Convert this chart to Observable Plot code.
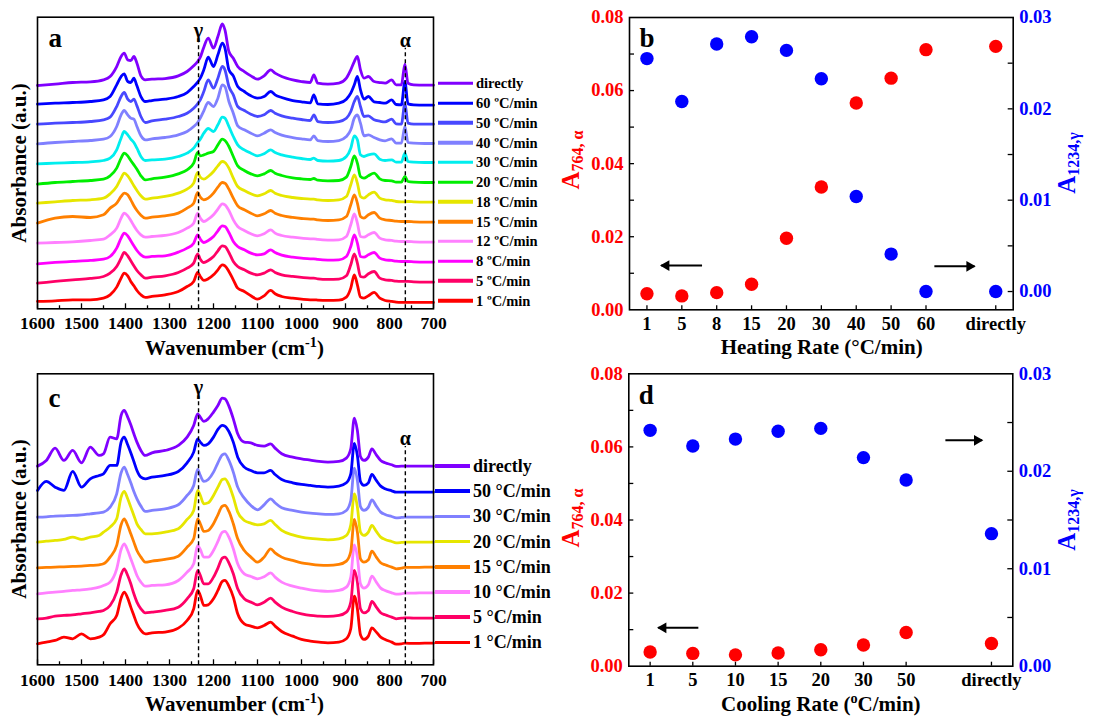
<!DOCTYPE html>
<html><head><meta charset="utf-8">
<script src="https://cdn.jsdelivr.net/npm/d3@7"></script>
<script src="https://cdn.jsdelivr.net/npm/@observablehq/plot@0.6"></script>
<style>
body{margin:0;background:#fff;}
#root{position:relative;width:1098px;height:716px;overflow:hidden;font-family:"Liberation Serif","Times New Roman",serif;font-weight:bold;color:#000;}
.panel{position:absolute;}
.lbl{position:absolute;white-space:nowrap;transform:translate(-50%,-50%);font-weight:bold;line-height:1;}
.rot{transform:translate(-50%,-50%) rotate(-90deg);}
.leg{position:absolute;display:flex;align-items:center;white-space:nowrap;transform:translateY(-50%);line-height:1;font-weight:bold;}
.leg .sw{display:inline-block;height:3.5px;margin-right:3px;}
sub{font-size:66%;vertical-align:-0.25em;}
sup{font-size:68%;vertical-align:0.5em;}
</style></head><body><div id="root"></div><script>
// ---------- Panel a: FTIR spectra on heating ----------
const waveA = [1600,1560,1520,1480,1450,1435,1420,1410,1403,1395,1388,1381,1374,1365,1355,1340,1310,1280,1260,1245,1236,1230,1222,1212,1200,1190,1180,1174,1165,1155,1145,1130,1115,1100,1085,1070,1060,1045,1020,1000,980,972,963,940,915,898,888,880,873,866,858,848,835,822,810,795,785,773,765,758,745,720,700];
const heat1 = [22,24,27,27,32,42,65,92,107,99,82,69,55,42,34,37,42,52,67,82,109,97,85,90,102,117,132,129,112,87,62,52,39,29,39,55,45,37,32,29,27,27,26,25,26,35,62,102,72,35,32,39,49,32,25,22,20,19,19,19,19,19,19];
const heat5 = [77,82,87,91,97,107,127,152,169,159,144,129,115,102,92,95,99,109,122,137,165,149,139,145,157,174,189,187,169,142,127,117,107,102,107,117,109,102,97,94,92,92,90,88,89,99,132,165,137,97,95,105,112,92,87,85,83,82,82,82,81,80,80];
const heat8 = [135,139,142,145,149,157,182,212,227,219,204,189,175,162,155,157,159,170,182,197,222,209,199,205,217,234,249,247,229,202,187,177,167,162,165,177,169,161,155,152,150,150,148,146,147,157,187,222,197,157,155,162,169,152,147,145,143,142,142,142,141,140,140];
const heat12 = [197,199,201,205,209,222,242,272,287,279,265,249,235,222,215,217,220,229,242,257,287,272,262,269,282,299,315,312,295,267,247,235,225,219,225,237,227,220,215,212,210,210,208,206,207,217,252,285,257,217,215,222,229,212,207,205,203,202,202,202,201,200,200];
const heat15 = [257,272,277,274,282,302,317,337,347,342,327,309,295,281,272,275,279,287,302,317,349,335,327,332,347,365,379,377,359,332,309,297,287,279,285,295,287,280,274,271,269,269,267,265,267,277,312,342,317,277,272,282,289,272,267,265,263,262,262,262,261,260,260];
const heat18 = [317,321,325,327,332,345,367,392,407,399,385,369,355,339,329,332,337,347,359,377,409,395,389,397,412,429,442,439,422,392,367,355,345,339,345,355,347,340,334,331,329,329,327,325,327,337,372,402,377,337,332,342,350,332,327,325,322,321,321,322,321,320,320];
const heat20 = [374,379,382,385,389,399,422,452,467,459,445,432,419,399,387,390,395,405,417,437,469,459,462,467,472,492,509,505,487,457,429,415,405,399,405,415,407,400,393,390,388,391,386,384,385,395,427,459,437,397,392,399,407,390,385,384,380,380,397,382,380,379,379];
const heat30 = [435,437,439,441,445,452,477,512,532,522,509,499,482,457,445,447,449,457,467,482,499,509,527,541,532,552,575,572,547,517,492,477,467,459,465,477,469,462,455,451,448,452,445,443,445,457,482,519,507,462,457,462,465,449,445,447,440,440,467,442,440,439,439];
const heat40 = [495,499,502,505,509,517,547,582,595,582,572,569,547,519,507,510,514,522,532,547,559,572,594,619,607,632,672,667,622,587,549,537,527,519,527,537,529,521,514,510,507,519,505,502,505,517,537,572,582,557,519,522,514,507,504,510,497,497,547,499,497,496,496];
const heat50 = [554,557,559,562,567,575,607,637,649,629,622,629,609,577,559,564,569,577,587,602,615,627,652,687,662,692,727,717,667,642,607,595,584,577,582,595,587,579,572,568,565,582,562,559,562,572,592,622,637,607,577,579,567,563,561,569,555,554,617,557,554,554,554];
const heat60 = [614,617,619,622,627,637,672,697,705,682,679,692,669,637,622,625,629,637,649,667,680,692,717,755,727,762,797,782,717,699,667,652,639,632,637,652,642,634,625,621,618,642,615,613,617,629,647,672,697,657,629,637,621,619,617,627,613,612,682,615,612,611,611];
const heatDirect = [670,674,679,681,687,697,727,757,767,747,745,757,737,699,687,689,691,699,712,729,742,755,785,812,782,817,855,837,772,752,727,712,699,689,699,717,707,697,687,682,679,702,677,674,677,692,717,742,757,717,692,697,682,679,677,687,672,672,734,677,672,671,671];
const heatLabels = ["1 ºC/min","5 ºC/min","8 ºC/min","12 ºC/min","15 ºC/min","18 ºC/min","20 ºC/min","30 ºC/min","40 ºC/min","50 ºC/min","60 ºC/min","directly"];
const heatColors = ["#ff0000","#ff0066","#ff00ff","#ff80ff","#ff8000","#e6e600","#00ee00","#00eeee","#8080ff","#4848ff","#0000ff","#8000ff"];

// ---------- Panel c: FTIR spectra on cooling ----------
const waveC = [1600,1580,1560,1540,1520,1500,1480,1460,1450,1435,1420,1410,1403,1395,1388,1381,1374,1365,1355,1340,1310,1280,1260,1245,1236,1230,1222,1212,1200,1190,1180,1174,1165,1155,1145,1130,1115,1100,1085,1070,1060,1045,1020,1000,980,960,940,915,898,888,880,873,866,858,848,840,830,820,810,795,785,773,765,745,720,700];
const cool1 = [63,68,73,83,78,93,78,83,90,123,148,200,218,200,173,148,123,103,93,96,98,110,133,168,223,208,178,180,198,223,250,253,236,203,153,123,116,111,118,128,116,100,86,76,71,68,66,68,78,108,206,168,90,76,86,111,98,83,76,68,62,63,65,64,65,65];
const cool5 = [138,140,146,148,150,153,156,160,163,178,218,270,288,268,243,213,188,168,156,158,163,173,198,228,283,268,243,243,263,290,320,323,306,273,228,198,188,180,188,200,188,173,160,153,148,146,145,148,158,188,283,248,168,156,163,190,173,156,150,143,138,140,141,140,140,140];
const cool10 = [213,216,218,220,223,225,228,233,238,248,288,346,363,343,318,293,268,248,236,238,240,253,278,303,358,346,323,323,343,370,398,400,383,348,303,273,265,258,264,276,263,248,236,230,225,222,220,223,233,263,360,323,243,230,240,266,248,230,223,216,212,213,215,215,216,216];
const cool15 = [291,292,293,294,295,296,298,300,303,323,358,420,438,418,393,368,343,323,308,311,316,326,353,378,438,423,400,403,423,450,476,478,460,423,378,343,323,308,323,348,336,323,313,306,302,299,298,301,311,340,436,398,318,308,315,341,323,306,300,293,288,290,292,292,293,293];
const cool20 = [368,371,373,376,383,376,383,388,398,413,438,503,520,498,473,448,423,406,393,393,398,408,436,463,523,508,483,486,508,533,556,558,540,503,458,433,425,420,423,433,421,403,390,383,379,377,375,378,388,420,513,473,398,388,398,418,400,383,376,370,366,367,368,368,368,368];
const cool30 = [443,444,446,447,448,450,453,456,458,473,513,576,593,570,546,520,498,476,460,463,468,480,508,538,586,568,550,556,578,606,630,633,613,578,533,500,478,465,480,498,486,471,463,458,455,453,451,453,463,493,590,553,475,463,473,495,476,458,451,445,441,442,443,443,443,443];
const cool50 = [523,550,533,523,580,533,558,568,573,598,598,668,683,660,636,610,583,563,558,563,568,580,606,638,678,668,658,663,683,706,718,716,700,668,623,593,583,576,576,583,571,556,546,541,538,535,533,536,546,573,664,628,550,538,546,571,553,536,528,522,518,518,518,518,518,518];
const coolDirect = [596,613,650,613,643,606,653,628,633,683,678,748,763,743,720,693,668,643,628,636,643,658,683,718,753,743,730,738,758,778,800,798,776,738,693,668,666,658,656,663,650,633,623,618,614,610,608,610,620,648,740,703,625,613,623,648,630,613,606,600,595,596,596,596,596,596];
const coolLabels = ["1 °C/min","5 °C/min","10 °C/min","15 °C/min","20 °C/min","30 °C/min","50 °C/min","directly"];
const coolColors = ["#ff0000","#ff0066","#ff80ff","#ff8000","#e6e600","#8080ff","#0000ff","#8000ff"];

// ---------- Panels b, d: band absorbances ----------
const heatRates = ["1","5","8","15","20","30","40","50","60","directly"];
const heatA764 = [0.0044,0.0038,0.0047,0.0070,0.0196,0.0336,0.0566,0.0634,0.0712,0.0721];
const heatA1234 = [0.0255,0.0208,0.0271,0.0279,0.0264,0.0233,0.0104,0.0041,0.0000,0.0000];
const coolRates = ["1","5","10","15","20","30","50","directly"];
const coolA764 = [0.0039,0.0035,0.0031,0.0036,0.0045,0.0058,0.0092,0.0062];
const coolA1234 = [0.0242,0.0226,0.0233,0.0241,0.0244,0.0214,0.0191,0.0136];

// reference band lines (wavenumber) and annotations
const refsA = [{name:"γ", w:1234, top:812, lab:836}, {name:"α", w:764, top:782, lab:806}];
const refsC = [{name:"γ", w:1234, top:805, lab:832}, {name:"α", w:764, top:655, lab:679}];
const arrowsB = [{x1:1.58, x2:0.41, y:0.0121}, {x1:8.24, x2:9.39, y:0.0119}];
const arrowsD = [{x1:1.13, x2:0.19, y:0.0105}, {x1:6.92, x2:7.78, y:0.0618}];

const FONT = '"Liberation Serif","Times New Roman",serif';
const root = document.getElementById("root");

function place(el, left, top) {
  const d = document.createElement("div");
  d.className = "panel"; d.style.left = left + "px"; d.style.top = top + "px";
  d.appendChild(el); root.appendChild(d);
}
function label(html, x, y, size, color, rot) {
  const d = document.createElement("div");
  d.className = "lbl" + (rot ? " rot" : "");
  d.style.left = x + "px"; d.style.top = y + "px";
  d.style.fontSize = size + "px"; d.style.color = color || "#000";
  d.innerHTML = html; root.appendChild(d);
}
function legend(labels, colors, x, y0, dy, size) {
  const n = labels.length;
  for (let k = 0; k < n; k++) {
    const i = n - 1 - k;
    const d = document.createElement("div");
    d.className = "leg";
    d.style.left = x + "px"; d.style.top = (y0 + k * dy) + "px"; d.style.fontSize = size + "px";
    d.innerHTML = `<span class="sw" style="width:35px;background:${colors[i]}"></span><span>${labels[i]}</span>`;
    root.appendChild(d);
  }
}

function spectraPlot(o) {
  const fh = o.h - o.mt - o.mb;
  const marks = [];
  o.series.forEach((vals, i) => {
    const rows = o.grid.map((w, j) => ({w, A: vals[j]}));
    marks.push(Plot.line(rows, {x: "w", y: "A", stroke: o.colors[i], strokeWidth: 2.8, curve: "monotone-x", strokeLinejoin: "round"}));
  });
  marks.push(Plot.ruleX(o.refs, {x: "w", y1: () => 0, y2: "top", stroke: "black", strokeWidth: 1.4, strokeDasharray: "4,3"}));
  marks.push(Plot.text(o.refs, {x: "w", y: "lab", text: "name", fontSize: 20, fontWeight: "bold", fontFamily: FONT, fill: "black"}));
  marks.push(Plot.tickX(d3.range(700, 1601, 100), {x: d => d, insetTop: fh - 5, strokeWidth: 1.3}));
  marks.push(Plot.tickX(d3.range(750, 1600, 100), {x: d => d, insetTop: fh - 3, strokeWidth: 1.3}));
  marks.push(Plot.axisX({ticks: d3.range(700, 1601, 100), tickFormat: d => String(d), tickSize: 0, tickPadding: o.tp, fontSize: 17.5, fontWeight: "bold", label: null}));
  marks.push(Plot.text([o.letter], {frameAnchor: "top-left", text: d => d, dx: 11, dy: o.ldy, textAnchor: "start", lineAnchor: "middle", fontSize: 27, fontWeight: "bold", fontFamily: FONT}));
  marks.push(Plot.frame({stroke: "black", strokeWidth: 1.6}));
  return Plot.plot({
    width: o.w, height: o.h, marginLeft: o.ml, marginRight: o.mr, marginTop: o.mt, marginBottom: o.mb,
    x: {type: "linear", domain: [1600, 700]},
    y: {domain: [0, o.ymax], axis: null},
    style: {fontFamily: FONT, fontWeight: "bold", background: "transparent", overflow: "visible", color: "black"},
    marks
  });
}

function ratePlot(o) {
  const n = o.rates.length;
  const pos = o.rates.map((r, i) => i < n - 1 ? i : i + 1);
  const fw = o.w - o.ml - o.mr, fh = o.h - o.mt - o.mb;
  const k = 0.08 / (o.rmax - o.rmin);
  const toL = v => (v - o.rmin) * k;
  const fmt = v => (Math.round((v / k + o.rmin) * 1000) / 1000 + 0).toFixed(2);
  const rows = o.rates.map((r, i) => ({x: pos[i], red: o.red[i], blue: toL(o.blue[i])}));
  const rightArrows = o.arrows.filter(a => a.x2 > a.x1), leftArrows = o.arrows.filter(a => a.x2 < a.x1);
  return Plot.plot({
    width: o.w, height: o.h, marginLeft: o.ml, marginRight: o.mr, marginTop: o.mt, marginBottom: o.mb,
    x: {type: "linear", domain: [-0.5, n + 0.5]},
    y: {domain: [0, 0.08]},
    style: {fontFamily: FONT, fontWeight: "bold", background: "transparent", overflow: "visible", color: "black"},
    marks: [
      Plot.frame({stroke: "black", strokeWidth: 1.6}),
      Plot.tickY([0.01,0.02,0.03,0.04,0.05,0.06,0.07], {y: d => d, insetRight: fw - 5, strokeWidth: 1.3}),
      Plot.tickY(o.rticks, {y: d => toL(d), insetLeft: fw - 5, strokeWidth: 1.3}),
      Plot.tickX(pos, {x: d => d, insetTop: fh - 4, strokeWidth: 1.3}),
      Plot.axisY({anchor: "left", ticks: [0,0.02,0.04,0.06,0.08], tickFormat: d => d.toFixed(2), tickSize: 0, tickPadding: 6, color: "#ff0000", fontSize: 18.5, fontWeight: "bold", label: null}),
      Plot.axisY({anchor: "right", ticks: [0,0.01,0.02,0.03].map(toL), tickFormat: fmt, tickSize: 0, tickPadding: 6, color: "#0000ff", fontSize: 18.5, fontWeight: "bold", label: null}),
      Plot.axisX({ticks: pos, tickFormat: p => o.rates[pos.indexOf(p)], tickSize: 0, tickPadding: o.tp, fontSize: 18.5, fontWeight: "bold", label: null}),
      Plot.link(o.arrows, {x1: "x1", x2: "x2", y1: "y", y2: "y", stroke: "black", strokeWidth: 2}),
      Plot.dot(rightArrows, {x: "x2", y: "y", symbol: "triangle", r: 4, rotate: 90, dx: -5, fill: "black", stroke: "none"}),
      Plot.dot(leftArrows, {x: "x2", y: "y", symbol: "triangle", r: 4, rotate: -90, dx: 5, fill: "black", stroke: "none"}),
      Plot.dot(rows, {x: "x", y: "red", r: 6.7, fill: "#ff0000", stroke: "none"}),
      Plot.dot(rows, {x: "x", y: "blue", r: 6.7, fill: "#0000ff", stroke: "none"}),
      Plot.text([o.letter], {frameAnchor: "top-left", text: d => d, dx: 10, dy: o.ldy, textAnchor: "start", lineAnchor: "middle", fontSize: 27, fontWeight: "bold", fontFamily: FONT})
    ]
  });
}

// Panel a
place(spectraPlot({grid: waveA, series: [heat1,heat5,heat8,heat12,heat15,heat18,heat20,heat30,heat40,heat50,heat60,heatDirect],
  colors: heatColors, ymax: 875, w: 440, h: 335, ml: 37, mr: 7, mt: 16.7, mb: 26.7, tp: 8, refs: refsA, letter: "a", ldy: 21}), 0, 0);
// Panel c
place(spectraPlot({grid: waveC, series: [cool1,cool5,cool10,cool15,cool20,cool30,cool50,coolDirect],
  colors: coolColors, ymax: 873, w: 440, h: 335, ml: 37, mr: 7, mt: 13.3, mb: 30.7, tp: 9, refs: refsC, letter: "c", ldy: 25}), 0, 360);
// Panel b
place(ratePlot({rates: heatRates, red: heatA764, blue: heatA1234, rmin: -0.002, rmax: 0.030, rticks: [0,0.005,0.01,0.015,0.02,0.025],
  arrows: arrowsB, w: 538, h: 335, ml: 69, mr: 85.3, mt: 17, mb: 25.7, tp: 7, letter: "b", ldy: 21}), 560, 0);
// Panel d
place(ratePlot({rates: coolRates, red: coolA764, blue: coolA1234, rmin: 0, rmax: 0.030, rticks: [0.005,0.01,0.015,0.02,0.025],
  arrows: arrowsD, w: 538, h: 340, ml: 68.3, mr: 85.7, mt: 13.3, mb: 34.3, tp: 6.5, letter: "d", ldy: 22}), 560, 360);

// Axis titles
label("Absorbance (a.u.)", 19, 162.5, 21, "#000", true);
label("Wavenumber (cm<sup>-1</sup>)", 234.5, 347, 21);
label("Absorbance (a.u.)", 19, 519, 21, "#000", true);
label("Wavenumber (cm<sup>-1</sup>)", 234.5, 703, 21);
label("<span style='font-size:25px'>A</span><sub style='font-size:16px'>764, α</sub>", 572, 160, 25, "#ff0000", true);
label("<span style='font-size:25px'>A</span><sub style='font-size:16px'>1234,γ</sub>", 1068, 162.5, 25, "#0000ff", true);
label("Heating Rate (°C/min)", 821.7, 347, 21);
label("<span style='font-size:25px'>A</span><sub style='font-size:16px'>764, α</sub>", 571.7, 517.5, 25, "#ff0000", true);
label("<span style='font-size:25px'>A</span><sub style='font-size:16px'>1234,γ</sub>", 1067.5, 520, 25, "#0000ff", true);
label("Cooling Rate (<sup>o</sup>C/min)", 820.8, 703.3, 21);

// Legends
legend(heatLabels, heatColors, 438, 83.3, 19.76, 14.5);
legend(coolLabels, coolColors, 435, 466, 25.19, 18);
</script></body></html>
